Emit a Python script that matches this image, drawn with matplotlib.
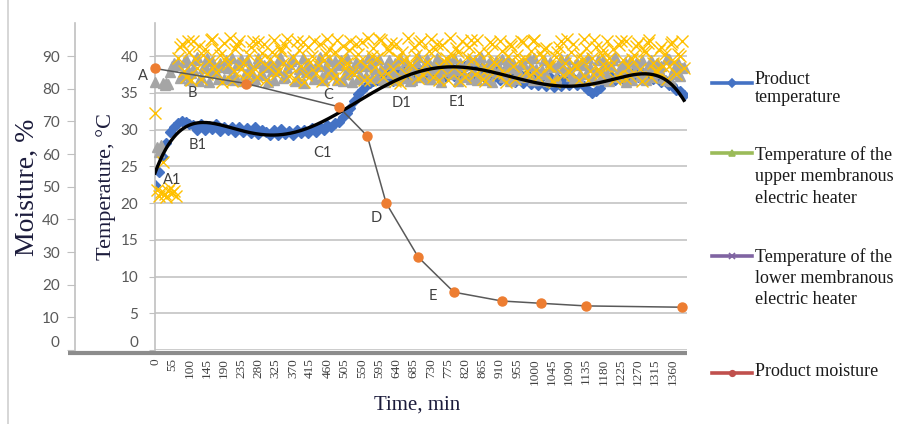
import numpy as np
import matplotlib
matplotlib.use("Agg")
import matplotlib.pyplot as plt
from matplotlib.lines import Line2D

# x axis is a category axis: one label every 45 "positions"
time_labels = ["0", "55", "100", "145", "190", "235", "280", "325", "370", "415",
               "460", "505", "550", "595", "640", "685", "730", "775", "820", "865",
               "910", "955", "1000", "1045", "1090", "1135", "1180", "1225", "1270",
               "1315", "1360"]

# product temperature, one reading every 10 positions (0..1380)
product_temp = [
    22.5, 24.2, 26.3, 28.2, 29.6, 30.3, 30.9, 31.2, 31.0, 30.7,
    30.6, 30.0, 30.8, 29.9, 30.5, 30.1, 30.7, 29.8, 30.4, 30.0,
    30.3, 29.6, 30.4, 29.7, 30.2, 29.5, 30.3, 29.4, 30.0, 29.6,
    29.2, 29.9, 29.3, 30.1, 29.4, 29.8, 29.2, 30.0, 29.5, 29.9,
    29.5, 30.2, 29.6, 30.3, 30.0, 30.6, 30.3, 30.9, 31.0, 31.7,
    32.2, 33.0, 33.9, 34.8, 35.4, 35.9, 36.3, 36.6, 36.8, 37.0,
    37.1, 37.6, 36.6, 37.9, 36.9, 38.0, 36.8, 38.2, 37.0, 38.3,
    37.2, 38.4, 37.1, 38.5, 37.3, 38.6, 37.2, 38.7, 37.3, 38.5,
    37.4, 38.6, 37.2, 38.5, 37.1, 38.4, 37.0, 38.3, 36.9, 38.1,
    36.8, 38.0, 36.6, 37.9, 36.5, 37.7, 36.3, 37.5, 36.2, 37.3,
    36.0, 37.2, 35.9, 37.1, 35.8, 37.0, 35.9, 36.9, 36.0, 37.0,
    36.0, 37.1, 35.9, 35.4, 35.0, 35.3, 35.7, 36.6, 36.7, 37.3,
    36.8, 37.6, 36.9, 37.7, 37.0, 37.8, 37.1, 37.8, 37.0, 37.6,
    36.9, 37.4, 36.5, 36.8, 36.0, 36.1, 35.4, 35.3, 34.7,
]

# heater temperatures, one reading every 5 positions (0..1380)
upper_heater = [
    36.5, 27.6, 27.0, 27.9, 36.3, 36.1, 36.4, 36.2, 37.8, 38.6, 39.0, 38.8,
    38.9, 37.0, 37.4, 39.2, 39.6, 38.1, 36.8, 37.7, 38.2, 39.5,
    39.9, 36.6, 37.1, 38.4, 38.7, 39.8, 36.5, 37.9, 39.3, 38.0,
    37.8, 36.9, 39.0, 38.5, 36.9, 39.4, 38.4, 37.2, 39.7, 36.7,
    37.3, 38.9, 38.8, 39.6, 36.6, 37.5, 39.4, 38.3, 38.0, 36.8,
    36.9, 39.1, 39.8, 37.4, 37.6, 38.8, 38.5, 36.5, 39.2, 37.9,
    36.7, 38.6, 38.1, 39.9, 39.5, 37.0, 37.2, 38.4, 38.9, 39.3,
    39.6, 36.6, 37.0, 38.2, 38.3, 39.7, 36.4, 37.8, 39.1, 38.5,
    37.7, 36.9, 38.6, 39.0, 39.9, 37.1, 36.8, 38.7, 38.0, 39.4,
    37.5, 38.1, 39.3, 36.7, 38.8, 39.5, 36.6, 37.6, 39.7, 38.3,
    37.9, 36.5, 38.4, 39.2, 36.9, 37.4, 39.0, 38.6, 37.3, 39.8,
    38.7, 37.0, 39.5, 38.2, 37.1, 39.6, 38.2, 36.7, 36.5, 38.9,
    39.4, 37.7, 37.8, 39.1, 38.9, 36.8, 39.8, 38.0, 37.0, 39.3,
    38.5, 36.6, 36.7, 38.4, 39.2, 39.9, 37.6, 37.2, 38.1, 38.8,
    39.6, 36.9, 36.9, 38.3, 38.8, 39.7, 37.4, 36.5, 39.1, 38.2,
    37.9, 39.4, 38.3, 37.6, 39.7, 38.1, 36.6, 39.0, 38.6, 37.3,
    37.2, 38.8, 39.4, 36.9, 38.0, 39.5, 36.8, 37.4, 39.9, 38.6,
    37.7, 36.7, 38.9, 39.3, 36.5, 38.0, 39.3, 37.8, 38.2, 39.6,
    37.1, 38.5, 39.5, 36.6, 38.4, 39.1, 36.9, 37.7, 37.8, 38.9,
    39.0, 37.2, 37.3, 39.8, 38.7, 36.8, 39.8, 38.3, 36.7, 37.5,
    38.1, 39.4, 37.5, 36.6, 39.2, 38.7, 38.5, 37.1, 36.6, 39.0,
    39.6, 38.4, 37.9, 39.6, 38.3, 37.3, 36.8, 38.8, 39.1, 36.9,
    37.6, 39.2, 38.8, 37.5, 39.7, 38.5, 37.0, 36.7, 38.0, 39.4,
    36.9, 38.0, 39.4, 38.9, 37.4, 36.6, 38.6, 39.5, 39.9, 37.6,
    37.2, 38.7, 38.2, 39.2, 36.5, 38.1, 39.3, 36.8, 37.8, 39.1,
    38.9, 37.3, 39.5, 36.9, 36.7, 38.6, 38.4, 39.4, 37.1, 37.7,
    39.0, 38.2, 38.7, 37.0, 36.8, 39.8, 39.6, 36.6, 37.5, 38.3,
    38.1, 39.1, 37.3, 38.4, 38.5,
]

lower_heater = [
    32.2, 21.8, 21.0, 21.5, 25.6, 21.2, 20.8, 21.6, 22.0, 21.3, 21.7, 21.0,
    39.8, 41.2, 41.6, 38.0, 37.2, 42.0, 40.5, 36.7, 42.1, 39.6,
    38.4, 41.4, 36.9, 40.2, 41.0, 37.5, 39.3, 42.2, 42.3, 38.6,
    37.8, 40.9, 40.2, 36.5, 41.8, 39.7, 38.9, 42.4, 36.6, 37.9,
    40.9, 41.5, 42.0, 38.3, 39.1, 36.8, 37.5, 40.1, 41.3, 42.1,
    38.2, 37.1, 41.9, 39.4, 40.4, 41.7, 36.8, 38.5, 39.6, 40.6,
    42.2, 37.6, 38.0, 41.1, 40.7, 39.0, 41.5, 42.3, 37.3, 38.7,
    39.9, 36.9, 42.1, 40.8, 38.6, 41.9, 36.5, 37.4, 41.2, 39.2,
    40.0, 42.0, 37.7, 38.8, 41.7, 36.6, 39.4, 40.3, 42.3, 41.0,
    38.1, 37.0, 40.6, 42.2, 36.9, 39.5, 41.4, 38.4, 39.0, 40.8,
    42.0, 37.8, 37.6, 41.6, 40.3, 39.3, 41.9, 36.7, 38.7, 42.4,
    36.7, 40.0, 41.1, 38.5, 39.7, 42.3, 42.2, 37.1, 37.9, 40.9,
    40.8, 41.8, 38.3, 36.6, 41.6, 39.8, 36.4, 40.5, 39.5, 37.6,
    42.4, 39.1, 38.8, 41.3, 40.1, 37.0, 41.8, 42.1, 37.4, 38.9,
    39.2, 40.7, 42.3, 37.2, 40.9, 41.7, 36.8, 38.4, 41.5, 39.3,
    39.8, 36.8, 42.4, 40.2, 38.5, 41.1, 40.6, 36.6, 42.0, 38.0,
    37.1, 39.9, 41.3, 42.2, 39.6, 37.5, 42.2, 40.4, 38.2, 36.9,
    36.6, 38.3, 40.4, 41.9, 41.7, 39.2, 38.9, 37.4, 42.1, 40.7,
    37.7, 36.5, 40.0, 41.6, 41.4, 38.6, 36.9, 40.2, 39.3, 42.0,
    41.9, 39.6, 38.0, 37.3, 40.7, 42.1, 42.2, 38.1, 37.2, 40.4,
    39.9, 41.0, 41.1, 38.6, 38.6, 36.6, 36.5, 39.9, 40.5, 41.3,
    42.0, 37.4, 39.0, 42.3, 37.8, 40.6, 41.6, 38.8, 38.4, 36.7,
    40.2, 39.5, 42.3, 41.1, 36.7, 37.9, 39.7, 42.2, 41.2, 38.3,
    37.5, 40.1, 40.8, 38.6, 42.1, 39.7, 38.8, 41.0, 36.9, 37.3,
    41.5, 42.0, 39.4, 37.0, 42.0, 38.5, 37.3, 39.6, 40.1, 41.4,
    41.8, 38.2, 36.6, 40.7, 40.6, 41.8, 42.2, 37.2, 39.1, 38.0,
    37.9, 40.8, 41.3, 38.7, 40.3, 36.9, 38.7, 41.7, 41.9, 39.2,
    37.6, 40.3, 40.0, 42.1, 38.4,
]

moisture_time = [0, 237, 479, 554, 603, 687, 780, 905, 1007, 1124, 1375]
moisture = [86.2, 81.6, 74.5, 65.5, 45.0, 28.4, 17.7, 15.0, 14.3, 13.5, 13.1]

# point labels: (text, position, temperature)
point_labels = [("A", -31, 37.3), ("B", 97, 35.0), ("C", 451, 34.7), ("D", 577, 18.0),
                ("E", 725, 7.3), ("A1", 44, 23.1), ("B1", 112, 27.9), ("C1", 436, 26.8),
                ("D1", 644, 33.6), ("E1", 788, 33.7)]

product_time = np.arange(0, 1381, 10)
heater_time = np.arange(0, 1381, 5)

W, H = 897, 424
fig = plt.figure(figsize=(W / 100, H / 100), dpi=100)

def fx(x):
    return x / W

def fy(y):
    return 1 - y / H

ax = fig.add_axes([fx(155), fy(350), fx(687) - fx(155), fy(23) - fy(350)])
ax2 = ax.twinx()

tick_font = "Lato"
serif = "Liberation Serif"

# temperature axis
ax.set_xlim(0, 1388)
ax.set_ylim(0, 44.5)
ax.set_yticks(range(0, 41, 5))
ax.grid(axis="y", color="#c8c8c8", lw=1.3)
ax.set_axisbelow(True)
for s in ["top", "right", "bottom"]:
    ax.spines[s].set_visible(False)
ax.spines["left"].set_color("#c0c0c0")
ax.spines["left"].set_linewidth(1.2)
ax.tick_params(axis="y", length=4, color="#c0c0c0", labelsize=11, labelcolor="#595959", pad=8)
for lab in ax.get_yticklabels():
    lab.set_fontfamily(tick_font)
ax.get_yticklabels()[0].set_va("bottom")
ax.set_xticks(np.arange(0, 1351, 45))
ax.set_xticklabels(time_labels, rotation=90, fontsize=9.5, family=serif, color="#404040")
ax.tick_params(axis="x", length=0, pad=6)

ax.plot(product_time, product_temp, ls="none", marker="D", ms=5.5, color="#4472c4", zorder=2)
ax.plot(heater_time, upper_heater, ls="none", marker="^", ms=7, color="#a5a5a5", zorder=3,
        clip_on=False)
ax.plot(heater_time, lower_heater, ls="none", marker="x", ms=8, mew=1.0, color="#ffc000",
        zorder=4, clip_on=False)

# polynomial trend of product temperature (6th order)
coef = np.polyfit(product_time / 1000, product_temp, 6)
tt = np.linspace(0, 1380, 400)
ax.plot(tt, np.polyval(coef, tt / 1000), color="black", lw=2.4, zorder=5)

for txt, px, py in point_labels:
    ax.text(px, py, txt, fontsize=10.5, family=tick_font, color="#404040",
            ha="center", va="center", zorder=6, clip_on=False)

# moisture axis, moved out to the left
ax2.set_ylim(0, 44.5 * 2.25)
ax2.set_yticks(range(0, 91, 10))
ax2.yaxis.tick_left()
for s in ["top", "right", "bottom"]:
    ax2.spines[s].set_visible(False)
ax2.spines["left"].set_visible(True)
ax2.spines["left"].set_position(("axes", (75 - 155) / 532))
ax2.spines["left"].set_color("#c0c0c0")
ax2.spines["left"].set_linewidth(1.2)
ax2.tick_params(axis="y", length=6, color="#c0c0c0", labelsize=11, labelcolor="#595959", pad=5)
for lab in ax2.get_yticklabels():
    lab.set_fontfamily(tick_font)
ax2.get_yticklabels()[0].set_va("bottom")

ax2.plot(moisture_time, moisture, color="#595959", lw=1.1, zorder=3)
ax2.plot(moisture_time, moisture, ls="none", marker="o", ms=6.5, color="#ed7d31", zorder=4,
         clip_on=False)

# thick bottom axis line running under both y axes
ax.plot([(68 - 155) / 532, 1.0], [-0.009, -0.009], transform=ax.transAxes, color="#8c8c8c",
        lw=3.0, solid_capstyle="butt", clip_on=False, zorder=7)

# axis titles
title_color = "#1c1c3c"
fig.text(fx(27), fy(187), "Moisture, %", rotation=90, ha="center", va="center",
         fontsize=20, family=serif, color=title_color)
fig.text(fx(106), fy(187), "Temperature, °C", rotation=90, ha="center", va="center",
         fontsize=16, family=serif, color=title_color)
fig.text(fx(417), fy(405), "Time, min", ha="center", va="center",
         fontsize=15, family=serif, color=title_color)

# legend drawn by hand to keep the uneven spacing
legend_items = [
    ("#4472c4", "D", 83, 80, 17, ["Product", "temperature"]),
    ("#9bbb59", "^", 153, 155, 21.5, ["Temperature of the", "upper membranous", "electric heater"]),
    ("#8064a2", "x", 256, 257, 21.5, ["Temperature of the", "lower membranous", "electric heater"]),
    ("#c0504d", "o", 373, 372, 0, ["Product moisture"]),
]
for color, mk, ly, ty, step, lines in legend_items:
    fig.add_artist(Line2D([fx(712), fx(752)], [fy(ly), fy(ly)], color=color, lw=2.6))
    fig.add_artist(Line2D([fx(732)], [fy(ly)], color=color, marker=mk, ms=4, mew=1.2, ls="none"))
    for i, line in enumerate(lines):
        fig.text(fx(755), fy(ty + i * step), line, ha="left", va="center", fontsize=13,
                 family=serif, color="#1a1a1a")

# chart border
fig.add_artist(Line2D([fx(8), fx(8)], [0, 1], color="#d0d0d0", lw=1.2))

fig.savefig("out.png", dpi=100)
